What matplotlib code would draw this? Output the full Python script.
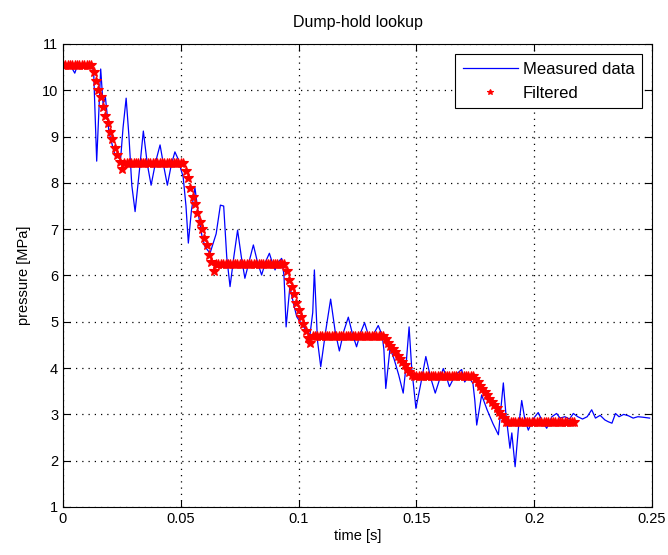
#!/usr/bin/env python3
# -*- coding: utf-8 -*-
"""
Dump-hold lookup: measured pressure vs filtered (stepped) pressure.
"""

import numpy as np
import matplotlib
matplotlib.use('Agg')
import matplotlib.pyplot as plt
from matplotlib.ticker import FuncFormatter

meas_t = [0.000, 0.003, 0.005, 0.006, 0.009, 0.0105, 0.012, 0.013, 0.0143, 0.0150,
          0.0160, 0.0170, 0.0180, 0.0195, 0.0210, 0.0222, 0.0245, 0.0255, 0.0268, 0.0280,
          0.0292, 0.0306, 0.0325, 0.0341, 0.0358, 0.0374, 0.0393, 0.0412, 0.0428, 0.0443,
          0.0460, 0.0475, 0.0490, 0.0500, 0.0510, 0.0522, 0.0532, 0.0545, 0.0560, 0.0575,
          0.0590, 0.0603, 0.0624, 0.0650, 0.0668, 0.0682, 0.0695, 0.0709, 0.0725, 0.0741,
          0.0757, 0.0772, 0.0790, 0.0808, 0.0825, 0.0843, 0.0860, 0.0876, 0.0890, 0.0900,
          0.0915, 0.0928, 0.0938, 0.0947, 0.0963, 0.0978, 0.0992, 0.1020, 0.1048, 0.1060,
          0.1067, 0.1080, 0.1094, 0.1115, 0.1136, 0.1155, 0.1173, 0.1192, 0.1211, 0.1228,
          0.1246, 0.1262, 0.1280, 0.1300, 0.1320, 0.1338, 0.1355, 0.1362, 0.1370, 0.1388,
          0.1405, 0.1425, 0.1444, 0.1455, 0.1469, 0.1480, 0.1498, 0.1520, 0.1540, 0.1560,
          0.1580, 0.1598, 0.1614, 0.1628, 0.1640, 0.1665, 0.1692, 0.1705, 0.1720, 0.1740,
          0.1748, 0.1756, 0.1777, 0.1800, 0.1825, 0.1848, 0.1858, 0.1869, 0.1880, 0.1897,
          0.1905, 0.1919, 0.1933, 0.1947, 0.1960, 0.1975, 0.1995, 0.2017, 0.2035, 0.2053,
          0.2075, 0.2095, 0.2110, 0.2130, 0.2150, 0.2166, 0.2185, 0.2205, 0.2225, 0.2244,
          0.2260, 0.2280, 0.2300, 0.2315, 0.2330, 0.2345, 0.2360, 0.2380, 0.2400, 0.2420,
          0.2440, 0.2460, 0.2490]
meas_p = [10.57, 10.55, 10.37, 10.52, 10.55, 10.48, 10.56, 10.42, 8.47, 9.30,
          10.46, 9.70, 9.85, 9.10, 8.80, 8.58, 8.55, 9.20, 9.83, 9.00,
          7.95, 7.38, 8.30, 9.12, 8.40, 7.95, 8.45, 8.82, 8.35, 7.95,
          8.40, 8.67, 8.50, 8.30, 8.13, 7.50, 6.70, 7.40, 7.90, 7.30,
          6.85, 6.62, 6.48, 6.90, 7.52, 7.50, 6.40, 5.76, 6.40, 6.98,
          6.40, 5.94, 6.30, 6.66, 6.30, 6.01, 6.30, 6.48, 6.25, 6.12,
          6.30, 6.37, 6.00, 4.89, 5.76, 5.40, 5.11, 4.90, 4.71, 5.20,
          6.12, 4.60, 4.03, 4.80, 5.49, 4.80, 4.37, 4.80, 5.10, 4.75,
          4.46, 4.75, 4.98, 4.65, 4.75, 4.92, 4.70, 4.40, 3.56, 4.43,
          4.20, 3.85, 3.46, 4.00, 4.89, 4.00, 3.13, 3.70, 4.25, 3.80,
          3.46, 3.75, 3.99, 3.80, 3.60, 3.85, 3.97, 3.70, 3.82, 3.67,
          3.30, 2.77, 3.42, 3.10, 2.80, 2.56, 3.10, 3.68, 3.00, 2.27,
          2.60, 1.87, 2.70, 3.30, 2.90, 2.66, 2.90, 3.04, 2.85, 2.70,
          2.95, 3.02, 2.92, 2.95, 2.90, 3.02, 2.95, 2.90, 2.95, 3.10,
          2.92, 2.98, 2.88, 2.84, 2.81, 3.02, 2.95, 3.00, 2.97, 2.92,
          2.95, 2.94, 2.92]

# filtered output, one sample per ms starting at t = 0
filt_dt = 0.001
filt_p = ([10.55] * 13 +
          [10.40, 10.20, 10.00, 9.85, 9.65, 9.45, 9.30, 9.10, 8.95, 8.75, 8.60, 8.45, 8.30] +
          [8.42] * 26 +
          [8.25, 8.10, 7.90, 7.70, 7.55, 7.35, 7.15, 7.00, 6.80, 6.65, 6.45, 6.30, 6.10] +
          [6.25] * 30 +
          [6.10, 5.90, 5.75, 5.60, 5.40, 5.25, 5.10, 4.95, 4.80, 4.65, 4.55] +
          [4.70] * 31 +
          [4.62, 4.55, 4.48, 4.41, 4.34, 4.27, 4.20, 4.13, 4.06, 3.99, 3.92, 3.85] +
          [3.83] * 26 +
          [3.76, 3.69, 3.62, 3.55, 3.48, 3.41, 3.34, 3.27, 3.20, 3.13, 3.06, 2.99, 2.93] +
          [2.84] * 30)

x_ticks = [0, 0.05, 0.1, 0.15, 0.2, 0.25]
y_ticks = [1, 2, 3, 4, 5, 6, 7, 8, 9, 10, 11]


def main():
    plt.rcParams['font.family'] = ['Liberation Sans', 'DejaVu Sans']
    plt.rcParams['font.size'] = 10

    fig = plt.figure(figsize=(6.68, 5.55), dpi=100)
    ax = fig.add_axes([63 / 668, 48 / 555, 589 / 668, 463 / 555])

    filt_t = np.arange(len(filt_p)) * filt_dt
    ax.plot(meas_t, meas_p, color='blue', lw=0.9, label='Measured data')
    ax.plot(filt_t, filt_p, ls='none', marker='*', ms=7, color='red', mec='red', mew=0.8,
            label='Filtered')

    ax.set_xlim(0, 0.25)
    ax.set_ylim(1, 11)
    ax.set_xticks(x_ticks)
    ax.set_yticks(y_ticks)
    ax.xaxis.set_major_formatter(FuncFormatter(lambda x, _: f'{x:g}'))
    ax.tick_params(direction='in', top=True, right=True, length=5, width=0.8, labelsize=10.5)
    ax.grid(True, ls=(0, (1, 4)), color='black', lw=0.9)
    for s in ax.spines.values():
        s.set_linewidth(0.8)

    ax.set_xlabel('time [s]', fontsize=10.5, labelpad=2)
    ax.set_ylabel('pressure [MPa]', fontsize=10.5, labelpad=8)
    ax.set_title('Dump-hold lookup', fontsize=11.5, pad=12)

    leg = ax.legend(loc='upper right', fancybox=False, edgecolor='black', framealpha=1,
                    fontsize=12, handlelength=3.3, handletextpad=0.3, labelspacing=0.55,
                    borderpad=0.45, borderaxespad=0.6, markerscale=0.55)
    leg.get_frame().set_linewidth(0.8)

    fig.savefig('out.png', dpi=100)


if __name__ == '__main__':
    main()
